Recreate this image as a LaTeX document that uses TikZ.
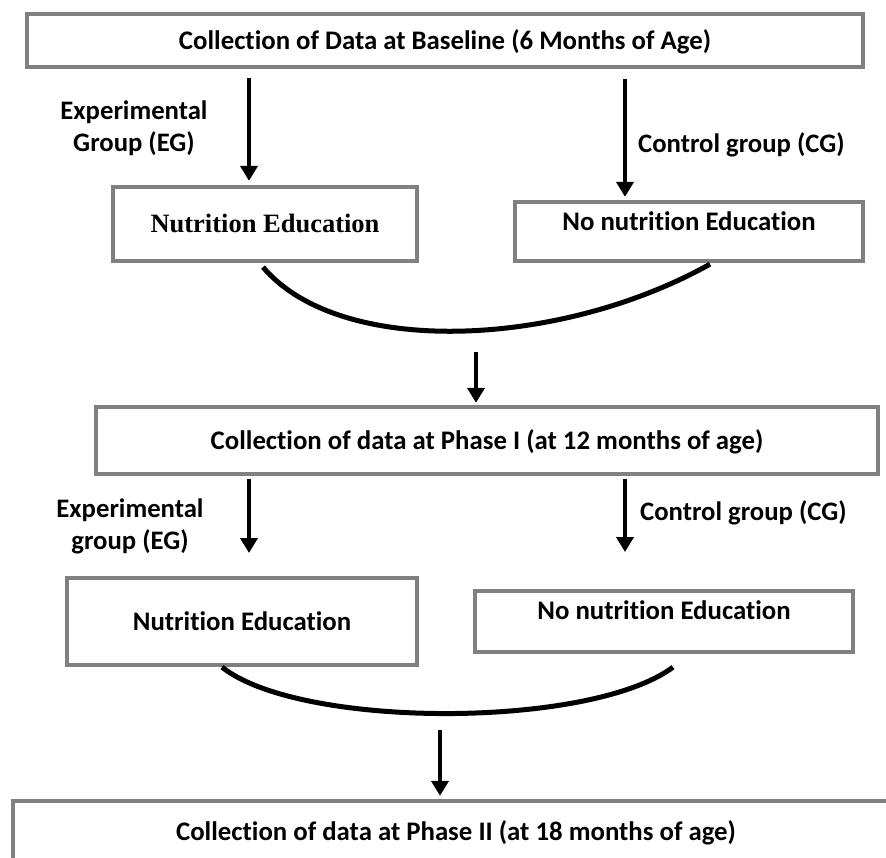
\documentclass[tikz,border=0pt]{standalone}
\usepackage{fontspec}
\setmainfont{Carlito}[Ligatures=NoCommon]
\newfontfamily\timesfont{Liberation Serif}
\usetikzlibrary{arrows.meta, positioning}
\definecolor{boxgray}{RGB}{128,128,128}

\begin{document}
\begin{tikzpicture}[x=1pt, y=-1pt,
    box/.style={draw=boxgray, line width=4.3pt, inner sep=0pt, text height=17pt, text depth=0pt,
        font=\fontsize{26.8}{30}\selectfont\bfseries},
    flow/.style={line width=4pt, -{Triangle[length=15pt, width=17pt]}},
    joinline/.style={line width=5pt},
    lbl/.style={inner sep=0pt, align=center, font=\fontsize{26.7}{32}\selectfont\bfseries}]
    \useasboundingbox (0,0) rectangle (886,857);
    \clip (0,0) rectangle (886,857);

    % Baseline
    \node[box, minimum width=836pt, minimum height=53pt] (base) at (445,40.5)
        {Collection of Data at Baseline (6 Months of Age)};
    \node[box, minimum width=304pt, minimum height=74pt, font=\fontsize{26.5}{30}\timesfont\bfseries] (ne1) at (265,224)
        {Nutrition Education};
    \node[box, minimum width=348pt, minimum height=59pt, text depth=20pt] (nne1) at (689,231.5)
        {No nutrition Education};
    \node[lbl] (eg1) at (134,128) {Experimental\\Group (EG)};
    \node[lbl, anchor=base west] (cg1) at (638,152) {Control group (CG)};

    \coordinate (xl) at (249,0);
    \coordinate (xr) at (625,0);
    \draw[flow, shorten <=9pt, shorten >=4pt] (base.south -| xl) -- (ne1.north -| xl);
    \draw[flow, shorten <=10pt, shorten >=3pt] (base.south -| xr) -- (nne1.north -| xr);
    \draw[joinline] ([shift={(-2,4)}]ne1.south) .. controls (340,358) and (560,348) .. ([shift={(21,1)}]nne1.south);

    % Phase I
    \node[box, minimum width=782pt, minimum height=67pt] (ph1) at (487,440.5)
        {Collection of data at Phase I (at 12 months of age)};
    \coordinate (m1) at (476,352);
    \draw[flow, shorten >=2pt] (m1) -- (ph1.north -| m1);

    \node[box, minimum width=350pt, minimum height=87pt] (ne2) at (242,621.5)
        {Nutrition Education};
    \node[box, minimum width=378pt, minimum height=61pt, text depth=22pt] (nne2) at (664,621.5)
        {No nutrition Education};
    \node[lbl] (eg2) at (130,526) {Experimental\\group (EG)};
    \node[lbl, anchor=base west] (cg2) at (640,520) {Control group (CG)};

    \coordinate (tl) at (249,553);
    \coordinate (tr) at (625,552);
    \draw[flow, shorten <=3pt] (ph1.south -| tl) -- (tl);
    \draw[flow, shorten <=3pt] (ph1.south -| tr) -- (tr);
    \draw[joinline] ([shift={(-20,0)}]ne2.south) .. controls (300,729) and (590,729) .. ([shift={(9,13)}]nne2.south);

    % Phase II
    \node[box, minimum width=886pt, minimum height=62pt] (ph2) at (456,832)
        {Collection of data at Phase II (at 18 months of age)};
    \coordinate (m2) at (440,730);
    \draw[flow, shorten >=3pt] (m2) -- (ph2.north -| m2);
\end{tikzpicture}
\end{document}
